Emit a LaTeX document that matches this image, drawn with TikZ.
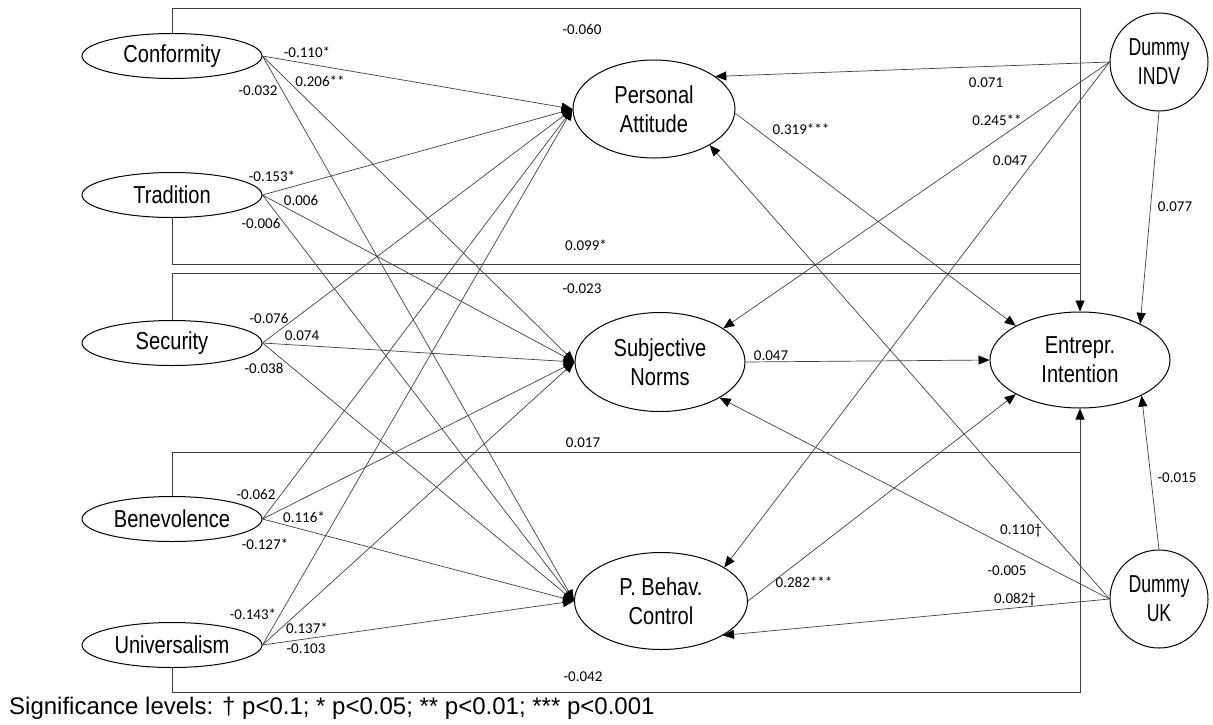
\documentclass[tikz,border=0pt]{standalone}
\usepackage{fontspec}
\usepackage{graphicx}
\setmainfont{Liberation Sans}
\newfontfamily\labfont{Carlito}
\usetikzlibrary{arrows.meta,shapes.geometric}
\newcommand{\nw}[1]{\scalebox{0.82}[1]{#1}}
\newcommand{\dw}[1]{\scalebox{0.72}[1]{#1}}
\tikzset{
  construct/.style={draw=black, line width=1pt, ellipse, inner sep=0pt, minimum width=180pt, minimum height=45pt, font=\fontsize{24.5}{29}\selectfont},
  latent/.style={draw=black, line width=1pt, ellipse, inner sep=0pt, align=center, font=\fontsize{24.5}{29}\selectfont},
  dummy/.style={draw=black, line width=1pt, circle, inner sep=0pt, minimum size=98pt, align=center, font=\fontsize{24.5}{29}\selectfont},
  link/.style={draw=black!75, line width=0.7pt},
  arr/.style={-{Triangle[length=11pt,width=9pt,color=black]}},
  lab/.style={font=\labfont\fontsize{15}{17}\selectfont, inner sep=0pt}
}
\begin{document}
\begin{tikzpicture}[x=1pt,y=-1pt]
\useasboundingbox (0,0) rectangle (1213,724);
% left constructs
\node[construct] (conf) at (172,56) {\nw{Conformity}};
\node[construct] (trad) at (172,195) {\nw{Tradition}};
\node[construct] (sec) at (172,343) {\nw{Security}};
\node[construct] (ben) at (172,519) {\nw{Benevolence}};
\node[construct] (univ) at (172,645) {\nw{Universalism}};
% middle
\node[latent, minimum width=162pt, minimum height=98pt] (pa) at (654,109) {\nw{Personal}\\\nw{Attitude}};
\node[latent, minimum width=170pt, minimum height=99pt] (sn) at (660,362) {\nw{Subjective}\\\nw{Norms}};
\node[latent, minimum width=173pt, minimum height=97pt] (pbc) at (661,601) {\nw{P. Behav.}\\\nw{Control}};
% right
\node[latent, minimum width=180pt, minimum height=96pt] (ei) at (1080,360) {\nw{Entrepr.}\\\nw{Intention}};
\node[dummy] (indv) at (1159,62) {\dw{Dummy}\\\dw{INDV}};
\node[dummy] (uk) at (1159,599) {\dw{Dummy}\\\dw{UK}};
% value paths
\foreach \s in {conf,trad,sec,ben,univ}{
  \foreach \t in {pa,sn,pbc}{
    \draw[link,arr] (\s.east) -- (\t.west);
  }
}
% middle to intention
\draw[link,arr] (pa.-3) -- (ei.152);
\draw[link,arr] (sn.east) -- (ei.west);
\draw[link,arr] (pbc.east) -- (ei.208);
% dummies
\draw[link,arr] (indv.west) -- (pa.28);
\draw[link,arr] (indv.west) -- (sn.28);
\draw[link,arr] (indv.west) -- (pbc.28);
\draw[link,arr] (indv.south) -- (ei.31);
\draw[link,arr] (uk.west) -- (pa.-33);
\draw[link,arr] (uk.west) -- (sn.-31);
\draw[link,arr] (uk.west) -- (pbc.-29);
\draw[link,arr] (uk.north) -- (ei.-30);
% direct paths (box lines)
\coordinate (tr) at (1080,8);
\coordinate (j1) at (1080,264);
\coordinate (j2) at (1080,273);
\coordinate (j3) at (1080,452);
\coordinate (br) at (1080,692);
\draw[link,arr] (conf.north) |- (tr) -- (ei.north);
\draw[link] (trad.south) |- (j1);
\draw[link] (sec.north) |- (j2);
\draw[link] (ben.north) |- (j3);
\draw[link,arr] (univ.south) |- (br) -- (ei.south);
% labels
\node[lab] (l01) at (582,29) {-0.060};
\node[lab] (l02) at (307,52) {-0.110*};
\node[lab] (l03) at (320,81) {0.206**};
\node[lab] (l04) at (258,91) {-0.032};
\node[lab] (l05) at (986,83) {0.071};
\node[lab] (l06) at (801,129) {0.319***};
\node[lab] (l07) at (997,120) {0.245**};
\node[lab] (l08) at (1010,161) {0.047};
\node[lab] (l09) at (1175,207) {0.077};
\node[lab] (l10) at (272,176) {-0.153*};
\node[lab] (l11) at (301,200) {0.006};
\node[lab] (l12) at (261,223) {-0.006};
\node[lab] (l13) at (586,245) {0.099*};
\node[lab] (l14) at (582,289) {-0.023};
\node[lab] (l15) at (269,318) {-0.076};
\node[lab] (l16) at (302,336) {0.074};
\node[lab] (l17) at (264,368) {-0.038};
\node[lab] (l18) at (771,356) {0.047};
\node[lab] (l19) at (1177,478) {-0.015};
\node[lab] (l20) at (583,443) {0.017};
\node[lab] (l21) at (256,494) {-0.062};
\node[lab] (l22) at (304,517) {0.116*};
\node[lab] (l23) at (265,544) {-0.127*};
\node[lab] (l24) at (1021,531) {0.110†};
\node[lab] (l25) at (1007,571) {-0.005};
\node[lab] (l26) at (1015,600) {0.082†};
\node[lab] (l27) at (804,582) {0.282***};
\node[lab] (l28) at (253,614) {-0.143*};
\node[lab] (l29) at (307,628) {0.137*};
\node[lab] (l30) at (306,649) {-0.103};
\node[lab] (l31) at (583,677) {-0.042};
% legend
\node[anchor=west, inner sep=0pt, font=\fontsize{24}{27}\selectfont] (legend) at (9,708) {Significance levels: † p<0.1; * p<0.05; ** p<0.01; *** p<0.001};
\end{tikzpicture}
\end{document}
